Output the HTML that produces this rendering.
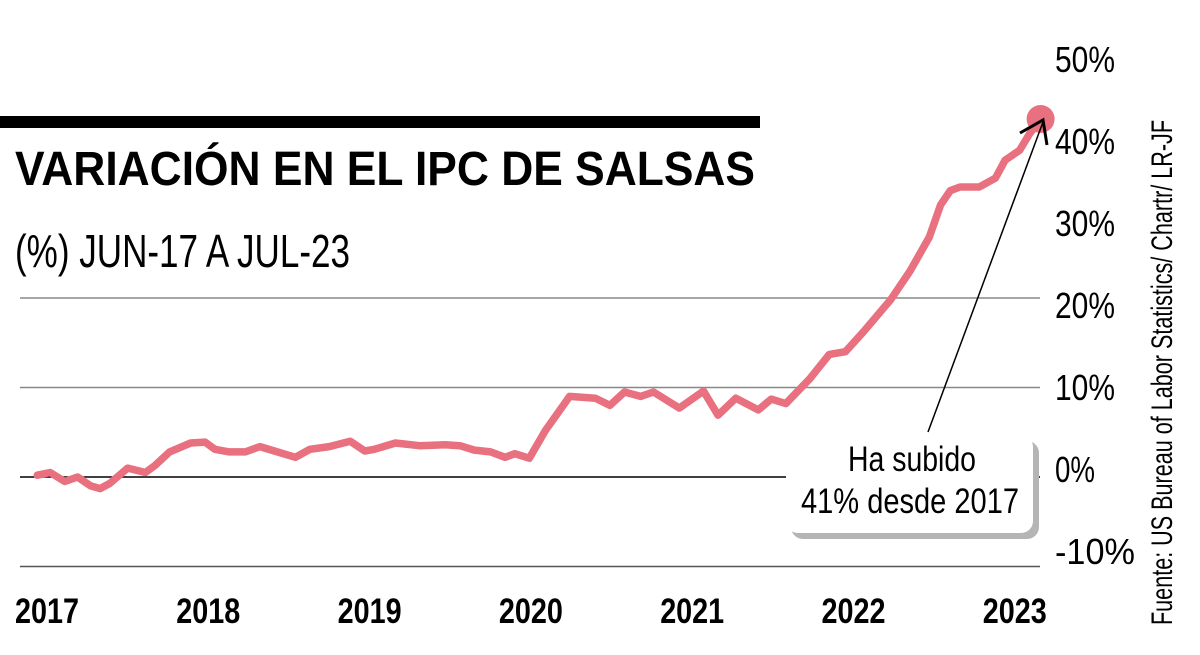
<!DOCTYPE html>
<html><head><meta charset="utf-8"><style>
html,body{margin:0;padding:0;background:#fff;}
svg{display:block;font-family:"Liberation Sans",sans-serif;}
</style></head><body>
<svg id="chart" width="1200" height="655" viewBox="0 0 1200 655">
<rect x="0" y="116" width="760" height="12" fill="#000"/>
<text x="15" y="185" font-size="48" font-weight="bold" textLength="740" lengthAdjust="spacingAndGlyphs">VARIACIÓN EN EL IPC DE SALSAS</text>
<text x="15" y="267" font-size="46" textLength="335" lengthAdjust="spacingAndGlyphs">(%) JUN-17 A JUL-23</text>
<g id="grid"></g>
<g id="yaxis"></g>
<g id="xaxis"></g>
<g id="series"></g>
<g>
<rect x="791" y="441" width="248" height="98" rx="12" fill="#b5b5b5"/>
<rect x="786" y="435" width="247" height="98" rx="12" fill="#fff"/>
<text x="912" y="471" font-size="35" text-anchor="middle" textLength="128" lengthAdjust="spacingAndGlyphs">Ha subido</text>
<text x="910" y="513" font-size="35" text-anchor="middle" textLength="218" lengthAdjust="spacingAndGlyphs">41% desde 2017</text>
<line x1="928" y1="432" x2="1043" y2="122" stroke="#000" stroke-width="1.5"/>
<polyline points="1020,133 1043,120 1047,145" fill="none" stroke="#000" stroke-width="3"/>
</g>
<text transform="translate(1172,625) rotate(-90)" font-size="30" textLength="505" lengthAdjust="spacingAndGlyphs">Fuente: US Bureau of Labor Statistics/ Chartr/ LR-JF</text>
</svg>
<script>
const dates=[2016.94,2017.02,2017.11,2017.19,2017.27,2017.33,2017.39,2017.50,2017.61,2017.67,2017.76,2017.89,2017.98,2018.04,2018.13,2018.23,2018.32,2018.41,2018.54,2018.63,2018.75,2018.88,2018.97,2019.03,2019.16,2019.31,2019.47,2019.56,2019.65,2019.75,2019.84,2019.90,2019.99,2020.09,2020.24,2020.40,2020.49,2020.58,2020.68,2020.76,2020.92,2021.07,2021.16,2021.27,2021.41,2021.49,2021.58,2021.73,2021.85,2021.95,2022.07,2022.23,2022.35,2022.47,2022.54,2022.60,2022.66,2022.78,2022.88,2022.94,2023.03,2023.09,2023.16];
const values=[0.2,0.5,-0.5,0,-1,-1.3,-0.7,1,0.5,1.3,2.8,3.8,3.9,3.1,2.8,2.8,3.4,2.9,2.2,3.1,3.4,4,2.9,3.1,3.8,3.5,3.6,3.5,3,2.8,2.2,2.6,2.1,5.2,9,8.8,8,9.5,9,9.5,7.7,9.6,6.9,8.8,7.5,8.7,8.2,11,13.7,14,16.4,19.8,23,26.8,30.4,32,32.4,32.4,33.4,35.4,36.5,38.3,40];
const gridValues=[20,10];
const yTicks=[50,40,30,20,10,0,-10];
const yTickLabels=["50%","40%","30%","20%","10%","0%","-10%"];
const xTicks=[2017,2018,2019,2020,2021,2022,2023];
const xTickLabels=["2017","2018","2019","2020","2021","2022","2023"];
const NS="http://www.w3.org/2000/svg";
const X=d=>47+(d-2017)*161.3;
const Y=v=>477-v*8.95;
const YL=v=>482-v*8.2;
function mk(tag,attrs,parent){const e=document.createElementNS(NS,tag);for(const k in attrs)e.setAttribute(k,attrs[k]);parent.appendChild(e);return e;}
const grid=document.getElementById('grid');
gridValues.forEach(v=>{const l=mk('line',{x1:20,x2:1040,y1:Y(v),y2:Y(v),stroke:'#888','stroke-width':1.5},grid);

});
const z=mk('line',{x1:20,x2:1040,y1:Y(0),y2:Y(0),stroke:'#000','stroke-width':1.5},grid);


const b=mk('line',{x1:20,x2:1040,y1:Y(-10),y2:Y(-10),stroke:'#555','stroke-width':1.5},grid);


const ya=document.getElementById('yaxis');
yTicks.forEach((v,i)=>{const t=mk('text',{x:1055,y:YL(v),'font-size':36},ya);
t.setAttribute('textLength',yTickLabels[i].length*20);
t.setAttribute('lengthAdjust','spacingAndGlyphs');
t.textContent=yTickLabels[i];

});
const xa=document.getElementById('xaxis');
xTicks.forEach((d,i)=>{const t=mk('text',{x:X(d),y:623,'font-size':35,'font-weight':'bold','text-anchor':'middle',textLength:64,lengthAdjust:'spacingAndGlyphs'},xa);
t.textContent=xTickLabels[i];

});
const s=document.getElementById('series');
const pts=dates.map((d,i)=>X(d).toFixed(1)+','+Y(values[i]).toFixed(1)).join(' ');
const pl=mk('polyline',{points:pts,fill:'none',stroke:'#e8707f','stroke-width':7.5,'stroke-linejoin':'round','stroke-linecap':'round'},s);


const n=dates.length-1;
const dot=mk('circle',{cx:X(dates[n]),cy:Y(values[n]),r:14,fill:'#e8707f'},s);


</script>
</body></html>
